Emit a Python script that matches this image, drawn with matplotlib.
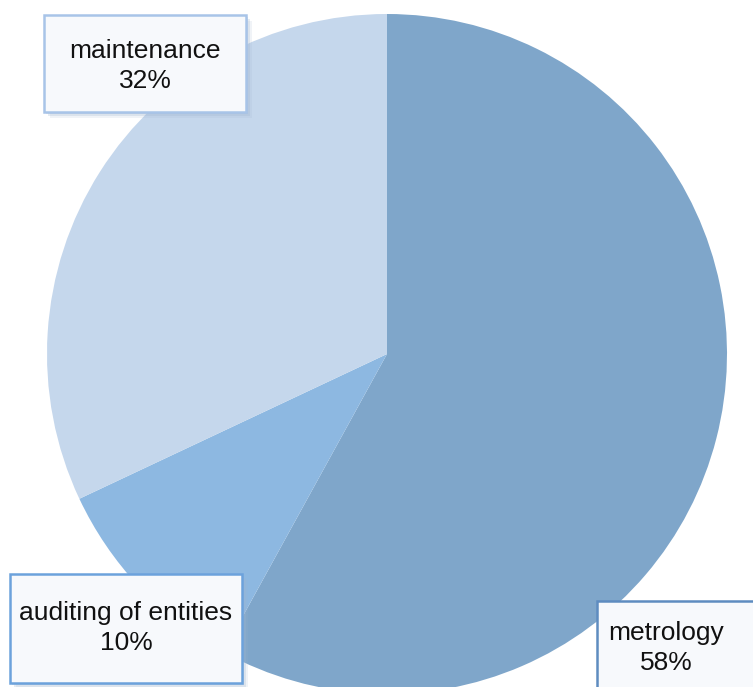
import matplotlib
matplotlib.use("Agg")
import matplotlib.pyplot as plt
from matplotlib.patches import Rectangle

categories = ["metrology", "auditing of entities", "maintenance"]
shares = [58, 10, 32]
colors = ["#7FA6CA", "#8DB8E1", "#C5D7EC"]
edge_colors = ["#5E8CC0", "#6CA2DC", "#A8C4E8"]

W, H = 753, 687
fig = plt.figure(figsize=(W / 100, H / 100), dpi=100)
ax = fig.add_axes([0, 0, 1, 1])

ax.pie(shares, colors=colors, startangle=90, counterclock=False,
       center=(387, H - 354), radius=340, frame=True,
       wedgeprops=dict(linewidth=0))
ax.set_xlim(0, W)
ax.set_ylim(0, H)
ax.set_aspect("equal")
ax.axis("off")

# label boxes: (x0, y_top, x1, y_bottom, text_x, text_y), pixels from top-left
boxes = [
    (597, 601, 770, 700, 666, 648),
    (10, 574, 242, 683, 126, 628),
    (44, 15, 246, 112, 145, 66),
]
for (x0, y0, x1, y1, tx, ty), name, val, ec in zip(boxes, categories, shares, edge_colors):
    w, h = x1 - x0, y1 - y0
    for off, a in ((6, 0.15), (4, 0.25), (2, 0.3)):
        ax.add_patch(Rectangle((x0 + off, H - y1 - off), w, h, facecolor="#9FB4CE",
                               edgecolor="none", alpha=a, zorder=3))
    ax.add_patch(Rectangle((x0, H - y1), w, h, facecolor="#F7F9FC",
                           edgecolor=ec, linewidth=1.8, zorder=4))
    ax.text(tx, H - ty, f"{name}\n{val}%", ha="center", va="center",
            fontsize=19, family="Liberation Sans", color="#111111",
            linespacing=1.32, zorder=5)

fig.savefig("out.png", dpi=100)
